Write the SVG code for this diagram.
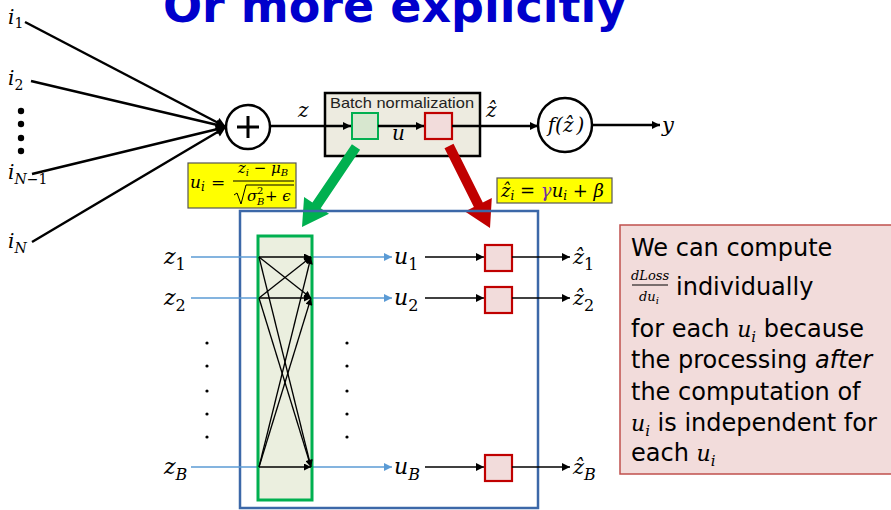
<svg xmlns="http://www.w3.org/2000/svg" width="891" height="510" viewBox="0 0 891 510">
<defs>
<style>
.m{font-family:"DejaVu Serif","Liberation Serif",serif;font-style:italic;fill:#000}
.n{font-style:normal}
.thick{stroke:#000;stroke-width:2.5;fill:none}
.thin{stroke:#000;stroke-width:1.3;fill:none}
.blue{stroke:#5B9BD5;stroke-width:1.6;fill:none}
.txt{font-family:"DejaVu Sans","Liberation Sans",sans-serif;font-size:24px;fill:#000}
.yel{fill:#FFFF00;stroke:#555;stroke-width:1.2}
.red{fill:#F2DCDB;stroke:#C00000;stroke-width:2.2}
</style>
<marker id="ahB" viewBox="0 0 10 10" refX="10" refY="5" markerUnits="userSpaceOnUse" markerWidth="12" markerHeight="10" orient="auto"><path d="M0,0 L10,5 L0,10 z" fill="#000"/></marker>
<marker id="ah" viewBox="0 0 10 10" refX="10" refY="5" markerUnits="userSpaceOnUse" markerWidth="10" markerHeight="8" orient="auto"><path d="M0,0 L10,5 L0,10 z" fill="#000"/></marker>
<marker id="ahS" viewBox="0 0 10 10" refX="10" refY="5" markerUnits="userSpaceOnUse" markerWidth="9" markerHeight="7" orient="auto"><path d="M0,0 L10,5 L0,10 z" fill="#000"/></marker>
<marker id="ahBl" viewBox="0 0 10 10" refX="10" refY="5" markerUnits="userSpaceOnUse" markerWidth="10" markerHeight="8" orient="auto"><path d="M0,0 L10,5 L0,10 z" fill="#5B9BD5"/></marker>
</defs>

<text x="163" y="22" font-family="DejaVu Sans" font-weight="bold" font-size="46" fill="#0000CC">Or more explicitly</text>

<g id="connectors">
<line class="thick" x1="25" y1="22" x2="226" y2="127" marker-end="url(#ahB)"/>
<line class="thick" x1="31" y1="81" x2="226" y2="127" marker-end="url(#ahB)"/>
<line class="thick" x1="32" y1="174" x2="226" y2="127" marker-end="url(#ahB)"/>
<line class="thick" x1="32" y1="242" x2="226" y2="127" marker-end="url(#ahB)"/>
</g>

<g id="inputs">
<text class="m" x="8" y="24" font-size="20">i<tspan class="n" font-size="14" dy="4">1</tspan></text>
<text class="m" x="8" y="85" font-size="20">i<tspan class="n" font-size="14" dy="5">2</tspan></text>
<circle cx="21" cy="111" r="3.2"/><circle cx="21" cy="124" r="3.2"/><circle cx="21" cy="138" r="3.2"/><circle cx="21" cy="151" r="3.2"/>
<text class="m" x="8" y="179" font-size="20">i<tspan font-size="14" dy="5">N</tspan><tspan class="n" font-size="14">−1</tspan></text>
<text class="m" x="8" y="248" font-size="20">i<tspan font-size="14" dy="5">N</tspan></text>
</g>

<g id="sum">
<circle cx="248" cy="127" r="22" fill="#fff" stroke="#000" stroke-width="2.5"/>
<path d="M237,127 H259 M248,116 V138" stroke="#000" stroke-width="3"/>
</g>

<g id="batchnorm">
<rect x="325" y="93" width="155" height="63" fill="#EDEBE0" stroke="#000" stroke-width="2.5"/>
<text x="402" y="108" text-anchor="middle" font-family="Liberation Sans" font-size="15" fill="#222" textLength="144" lengthAdjust="spacingAndGlyphs">Batch normalization</text>
<rect x="352" y="113" width="26" height="26" fill="#D7E7CF" stroke="#00B050" stroke-width="2"/>
<rect x="425" y="113" width="27" height="26" class="red"/>
</g>

<g id="main-line">
<line class="thick" x1="270" y1="126" x2="351" y2="126" stroke-width="2" marker-end="url(#ah)"/>
<line class="thick" x1="378" y1="126" x2="424" y2="126" stroke-width="2" marker-end="url(#ah)"/>
<line class="thick" x1="452" y1="126" x2="538" y2="126" stroke-width="2" marker-end="url(#ah)"/>
<line class="thick" x1="592" y1="125" x2="660" y2="125" stroke-width="2" marker-end="url(#ah)"/>
<text class="m" x="298" y="117" font-size="20">z</text>
<text class="m" x="392" y="140" font-size="20">u</text>
<text class="m" x="486" y="117" font-size="20">ẑ</text>
<text class="m" x="662" y="132" font-size="21">y</text>
</g>

<g id="activation">
<circle cx="565" cy="125" r="27" fill="#fff" stroke="#000" stroke-width="2.5"/>
<text class="m" x="566" y="132" text-anchor="middle" font-size="20">f(ẑ<tspan dx="3">)</tspan></text>
</g>

<g id="big-arrows">
<polygon points="360.1,149.8 320.7,208.3 329,213.8 302,227 304.1,197.1 312.4,202.6 351.9,144.2" fill="#00B050"/>
<polygon points="453.5,143.8 482.8,202.5 491.8,198 490,228 465,211.5 473.9,207 444.5,148.2" fill="#C00000"/>
</g>

<g id="formula1">
<rect class="yel" x="188" y="163" width="108" height="45"/>
<text class="m" x="190" y="188" font-size="17">u<tspan font-size="12" dy="3">i</tspan></text>
<text class="m n" x="211" y="188" font-size="17">=</text>
<text class="m" x="263" y="173" text-anchor="middle" font-size="15">z<tspan font-size="10" dy="3">i</tspan><tspan class="n" dy="-3"> − </tspan>μ<tspan font-size="10" dy="3">B</tspan></text>
<line x1="233" y1="181" x2="294" y2="181" stroke="#000" stroke-width="1"/>
<path d="M234,195 L237,193 L241,204 L246,185 H294" fill="none" stroke="#000" stroke-width="1"/>
<text class="m" x="247" y="201" font-size="15">σ</text>
<text class="m n" x="257" y="194" font-size="10">2</text>
<text class="m" x="257" y="205" font-size="10">B</text>
<text class="m" x="265" y="201" font-size="15"><tspan class="n">+ </tspan>ϵ</text>
</g>

<g id="formula2">
<rect class="yel" x="497" y="178" width="115" height="25"/>
<text class="m" x="501" y="197" font-size="18">ẑ<tspan font-size="12" dy="3">i</tspan><tspan class="n" dy="-3"> = </tspan><tspan fill="#7030A0">γ</tspan>u<tspan font-size="12" dy="3">i</tspan><tspan class="n" dy="-3"> + </tspan>β</text>
</g>

<g id="batch-box">
<rect x="240" y="211" width="298" height="297" fill="none" stroke="#3C68A8" stroke-width="2.5"/>
</g>

<g id="z-inputs">
<line class="blue" x1="191" y1="257" x2="392" y2="257" marker-end="url(#ahBl)"/>
<line class="blue" x1="191" y1="298" x2="392" y2="298" marker-end="url(#ahBl)"/>
<line class="blue" x1="191" y1="467" x2="392" y2="467" marker-end="url(#ahBl)"/>
<text class="m" x="164" y="264" font-size="22">z<tspan class="n" font-size="16" dy="6">1</tspan></text>
<text class="m" x="164" y="305" font-size="22">z<tspan class="n" font-size="16" dy="6">2</tspan></text>
<text class="m" x="164" y="474" font-size="22">z<tspan font-size="16" dy="6">B</tspan></text>
</g>

<g id="normalizer">
<rect x="258" y="236" width="54" height="264" fill="#EBEFDF" stroke="#00B050" stroke-width="3"/>
</g>

<g id="cross-connectors">
<line class="thin" x1="259" y1="257" x2="311" y2="257" marker-end="url(#ahS)"/>
<line class="thin" x1="259" y1="257" x2="311" y2="298" marker-end="url(#ahS)"/>
<line class="thin" x1="259" y1="257" x2="311" y2="467" marker-end="url(#ahS)"/>
<line class="thin" x1="259" y1="298" x2="311" y2="257" marker-end="url(#ahS)"/>
<line class="thin" x1="259" y1="298" x2="311" y2="298" marker-end="url(#ahS)"/>
<line class="thin" x1="259" y1="298" x2="311" y2="467" marker-end="url(#ahS)"/>
<line class="thin" x1="259" y1="467" x2="311" y2="257" marker-end="url(#ahS)"/>
<line class="thin" x1="259" y1="467" x2="311" y2="298" marker-end="url(#ahS)"/>
<line class="thin" x1="259" y1="467" x2="311" y2="467" marker-end="url(#ahS)"/>
</g>

<g id="dots">
<circle cx="207" cy="343" r="1.6"/><circle cx="207" cy="366" r="1.6"/><circle cx="207" cy="391" r="1.6"/><circle cx="207" cy="414" r="1.6"/><circle cx="207" cy="437" r="1.6"/>
<circle cx="347" cy="343" r="1.6"/><circle cx="347" cy="366" r="1.6"/><circle cx="347" cy="391" r="1.6"/><circle cx="347" cy="414" r="1.6"/><circle cx="347" cy="437" r="1.6"/>
</g>

<g id="u-outputs">
<text class="m" x="394" y="264" font-size="22">u<tspan class="n" font-size="16" dy="6">1</tspan></text>
<text class="m" x="394" y="305" font-size="22">u<tspan class="n" font-size="16" dy="6">2</tspan></text>
<text class="m" x="394" y="474" font-size="22">u<tspan font-size="16" dy="6">B</tspan></text>
<line class="thin" x1="425" y1="257" x2="484" y2="257" marker-end="url(#ah)"/>
<line class="thin" x1="425" y1="298" x2="484" y2="298" marker-end="url(#ah)"/>
<line class="thin" x1="425" y1="467" x2="484" y2="467" marker-end="url(#ah)"/>
</g>

<g id="scale-shift">
<rect class="red" x="485" y="245" width="27" height="26"/>
<rect class="red" x="485" y="287" width="27" height="26"/>
<rect class="red" x="485" y="455" width="27" height="26"/>
<line class="thin" x1="512" y1="257" x2="570" y2="257" marker-end="url(#ah)"/>
<line class="thin" x1="512" y1="298" x2="570" y2="298" marker-end="url(#ah)"/>
<line class="thin" x1="512" y1="467" x2="570" y2="467" marker-end="url(#ah)"/>
<text class="m" x="573" y="264" font-size="21">ẑ<tspan class="n" font-size="16" dy="6">1</tspan></text>
<text class="m" x="573" y="305" font-size="21">ẑ<tspan class="n" font-size="16" dy="6">2</tspan></text>
<text class="m" x="573" y="474" font-size="21">ẑ<tspan font-size="16" dy="6">B</tspan></text>
</g>

<g id="note">
<rect x="620" y="225" width="285" height="249" fill="#F2DCDB" stroke="#C0504D" stroke-width="1.5"/>
<text class="txt" x="631" y="256">We can compute</text>
<text class="m" x="650" y="280" text-anchor="middle" font-size="13">dLoss</text>
<line x1="632" y1="285" x2="668" y2="285" stroke="#000" stroke-width="1"/>
<text class="m" x="649" y="301" text-anchor="middle" font-size="13">du<tspan font-size="10" dy="3">i</tspan></text>
<text class="txt" x="676" y="295">individually</text>
<text class="txt" x="631" y="337">for each <tspan class="m" font-size="22">u<tspan font-size="15" dy="5">i</tspan></tspan><tspan dy="-5"> because</tspan></text>
<text class="txt" x="631" y="368">the processing <tspan font-style="italic">after</tspan></text>
<text class="txt" x="631" y="400">the computation of</text>
<text class="txt" x="631" y="431"><tspan class="m" font-size="22">u<tspan font-size="15" dy="5">i</tspan></tspan><tspan dy="-5"> is independent for</tspan></text>
<text class="txt" x="631" y="461">each <tspan class="m" font-size="22">u<tspan font-size="15" dy="5">i</tspan></tspan></text>
</g>
</svg>
